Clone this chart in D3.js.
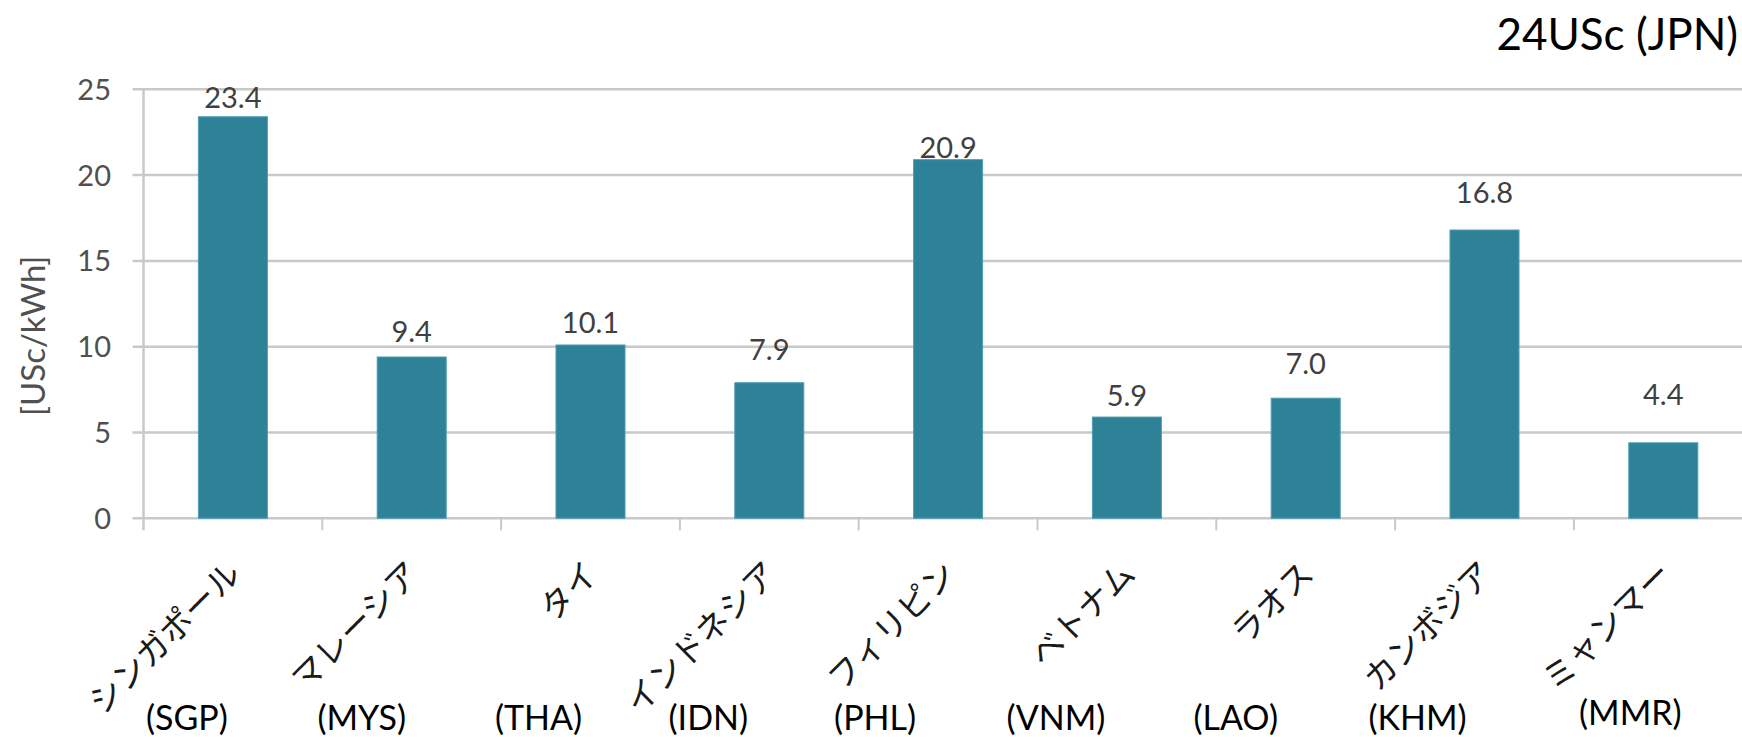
<!DOCTYPE html>
<html lang="ja">
<head>
<meta charset="utf-8">
<script src="https://cdn.jsdelivr.net/npm/d3@7"></script>
<style>
  html, body { margin: 0; padding: 0; background: #ffffff; }
  svg { display: block; }
</style>
</head>
<body>
<svg id="chart" width="1742" height="737"></svg>
<script>
// Electricity tariff by country, US cents per kWh
const countries = ["シンガポール", "マレーシア", "タイ", "インドネシア", "フィリピン", "ベトナム", "ラオス", "カンボジア", "ミャンマー"];
const codes = ["(SGP)", "(MYS)", "(THA)", "(IDN)", "(PHL)", "(VNM)", "(LAO)", "(KHM)", "(MMR)"];
const tariffs = [23.4, 9.4, 10.1, 7.9, 20.9, 5.9, 7.0, 16.8, 4.4];
const yTicks = [0, 5, 10, 15, 20, 25];
const yTitle = "[USc/kWh]";
const reference = "24USc (JPN)";

// Layout: how far each value label sits above its bar (px)
const labelLift = [9, 15, 12, 23, 1.5, 11, 24, 27, 38];
// Horizontal nudge of the country-code captions relative to each category centre (px)
const codeShift = [-46, -50, -52, -61, -73, -71, -70, -67, -33];
const codeDrop = [0, 0, 0, 0, 0, 0, 0, 0, -5];

(function draw() {
  const svg = d3.select("#chart");
  const W = 1742;
  const plotLeft = 143.5, plotTop = 89.3, plotBottom = 518.3;
  const step = 178.8;

  const x = d3.scaleBand()
    .domain(countries)
    .range([plotLeft, plotLeft + step * countries.length])
    .paddingInner(0.614)
    .paddingOuter(0.307);

  const y = d3.scaleLinear().domain([0, 25]).range([plotBottom, plotTop]);

  const gridColor = "#c9c9c9";
  const labelFont = "Lato, 'Liberation Sans', sans-serif";

  // horizontal gridlines (with the short outward y ticks)
  svg.append("g").selectAll("line")
    .data(yTicks)
    .join("line")
    .attr("x1", plotLeft - 11)
    .attr("x2", W)
    .attr("y1", d => y(d))
    .attr("y2", d => y(d))
    .attr("stroke", gridColor)
    .attr("stroke-width", 2.5);

  // vertical value axis line
  svg.append("line")
    .attr("x1", plotLeft).attr("x2", plotLeft)
    .attr("y1", y(25)).attr("y2", plotBottom + 12)
    .attr("stroke", gridColor).attr("stroke-width", 2.5);

  // category boundary ticks below the base line
  const pad = (x.step() - x.bandwidth()) / 2;
  svg.append("g").selectAll("line")
    .data(countries)
    .join("line")
    .attr("x1", d => x(d) - pad + x.step())
    .attr("x2", d => x(d) - pad + x.step())
    .attr("y1", plotBottom)
    .attr("y2", plotBottom + 12)
    .attr("stroke", gridColor)
    .attr("stroke-width", 2);

  // y tick labels
  svg.append("g").selectAll("text")
    .data(yTicks)
    .join("text")
    .attr("x", 111)
    .attr("y", d => y(d))
    .attr("dy", "0.36em")
    .attr("text-anchor", "end")
    .attr("font-family", labelFont)
    .attr("font-size", 29)
    .attr("fill", "#505050")
    .text(d => d);

  // y axis title
  svg.append("text")
    .attr("transform", `translate(45, ${(plotTop + plotBottom) / 2 + 32}) rotate(-90)`)
    .attr("text-anchor", "middle")
    .attr("font-family", labelFont)
    .attr("font-size", 33)
    .attr("fill", "#505050")
    .text(yTitle);

  // bars
  svg.append("g").selectAll("rect")
    .data(tariffs)
    .join("rect")
    .attr("x", (d, i) => x(countries[i]))
    .attr("width", x.bandwidth())
    .attr("y", d => y(d))
    .attr("height", d => plotBottom - y(d))
    .attr("fill", "#2e8298")
    .attr("stroke", "#4f9db1")
    .attr("stroke-width", 1);

  // value labels
  svg.append("g").selectAll("text")
    .data(tariffs)
    .join("text")
    .attr("x", (d, i) => x(countries[i]) + x.bandwidth() / 2)
    .attr("y", (d, i) => y(d) - labelLift[i])
    .attr("text-anchor", "middle")
    .attr("font-family", labelFont)
    .attr("font-size", 29)
    .attr("fill", "#404040")
    .text(d => d.toFixed(1));

  // rotated country names
  svg.append("g").selectAll("text")
    .data(countries)
    .join("text")
    .attr("transform", d => `translate(${x(d) + x.bandwidth() / 2 + 10}, 576) rotate(-45)`)
    .attr("text-anchor", "end")
    .attr("font-family", "'Noto Sans CJK JP', sans-serif")
    .attr("font-weight", 400)
    .attr("font-size", 33)
    .attr("fill", "#1a1a1a")
    .text(d => d);

  // country code captions
  svg.append("g").selectAll("text")
    .data(codes)
    .join("text")
    .attr("x", (d, i) => x(countries[i]) + x.bandwidth() / 2 + codeShift[i])
    .attr("y", (d, i) => 730 + codeDrop[i])
    .attr("text-anchor", "middle")
    .attr("font-family", labelFont)
    .attr("font-size", 34)
    .attr("fill", "#000000")
    .text(d => d);

  // Japan reference note
  svg.append("text")
    .attr("x", 1738)
    .attr("y", 50)
    .attr("text-anchor", "end")
    .attr("font-family", labelFont)
    .attr("font-size", 44)
    .attr("fill", "#000000")
    .text(reference);
})();
</script>
</body>
</html>
